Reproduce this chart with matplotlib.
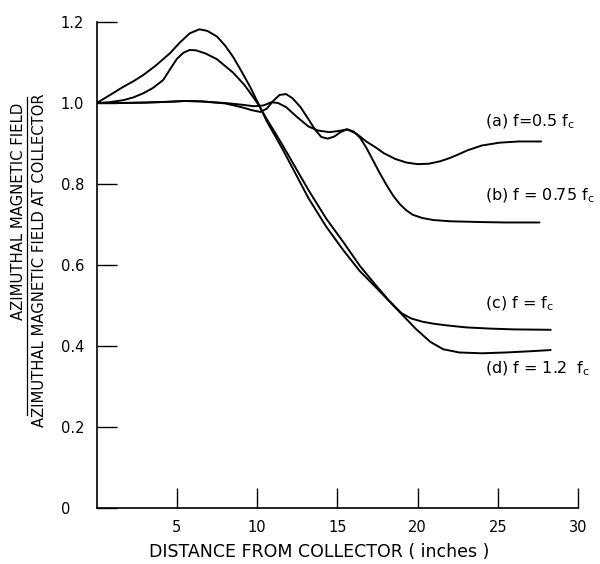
import matplotlib
matplotlib.use("Agg")
import matplotlib.pyplot as plt
from matplotlib.lines import Line2D

# ---- data ----
xa = [0, 1.5, 3, 4.5, 5.5, 6.5, 8, 9, 9.8, 10.4, 10.9, 11.3, 11.8, 12.5, 13.2, 13.8, 14.5, 15.1, 15.6,
      16.2, 16.8, 17.4, 17.9, 18.6, 19.3, 20, 20.7, 21.4, 22, 22.6, 23.1, 24, 25.1, 26.3, 27.7]
ya = [1.0, 1.0, 1.001, 1.003, 1.005, 1.004, 1.0, 0.996, 0.992, 0.994, 1.002, 1.0, 0.99, 0.965, 0.942, 0.932,
      0.928, 0.931, 0.935, 0.924, 0.905, 0.89, 0.876, 0.862, 0.853, 0.849, 0.85, 0.856, 0.864, 0.874, 0.883,
      0.895, 0.902, 0.905, 0.905]

xb = [0, 1.5, 3, 4.5, 5.5, 6.5, 8, 9, 9.7, 10.2, 10.6, 11, 11.4, 11.8, 12.2, 12.7, 13.2, 13.6, 14.0, 14.4,
      14.8, 15.2, 15.6, 16.0, 16.4, 16.8, 17.2, 17.6, 18.1, 18.5, 18.9, 19.3, 19.7, 20.3, 21, 22, 24, 25.5, 27.6]
yb = [1.0, 1.0, 1.001, 1.003, 1.005, 1.004, 0.999, 0.99, 0.982, 0.978, 0.986, 1.005, 1.02, 1.022, 1.012,
      0.99, 0.96, 0.935, 0.916, 0.912, 0.917, 0.928, 0.935, 0.93, 0.915, 0.89, 0.86, 0.83, 0.795, 0.77, 0.75,
      0.735, 0.724, 0.716, 0.711, 0.708, 0.706, 0.705, 0.705]

xc = [0, 0.8, 1.66, 2.3, 2.9, 3.5, 4.15, 4.6, 5.0, 5.4, 5.8, 6.2, 6.8, 7.5, 8.5, 9.2, 9.8, 10.1, 10.6, 11.1,
      11.6, 12.4, 13.2, 14.3, 15.4, 16.4, 17.4, 18.2, 19.0, 19.6, 20.3, 21, 21.8, 23, 24.5, 26, 28.3]
yc = [1.0, 1.002, 1.007, 1.014, 1.024, 1.037, 1.057, 1.085, 1.109, 1.124, 1.131, 1.13, 1.122, 1.108, 1.075,
      1.045, 1.012, 0.995, 0.96, 0.928, 0.895, 0.84, 0.785, 0.715, 0.655, 0.598, 0.55, 0.513, 0.481, 0.468,
      0.46, 0.455, 0.451, 0.446, 0.443, 0.441, 0.44]

xd = [0, 0.8, 1.66, 2.3, 2.9, 3.7, 4.57, 5.2, 5.8, 6.4, 6.9, 7.5, 8.0, 8.5, 9.0, 9.56, 10.07, 10.6, 11.1,
      11.6, 12.4, 13.2, 14.3, 15.4, 16.4, 17.4, 18.2, 19.0, 19.9, 20.8, 21.6, 22.6, 24, 25.5, 27, 28.3]
yd = [1.0, 1.019, 1.04, 1.054, 1.069, 1.093, 1.123, 1.15, 1.172, 1.182, 1.178, 1.164, 1.142, 1.114, 1.08,
      1.04, 0.999, 0.955, 0.92, 0.885, 0.825, 0.765, 0.695, 0.635, 0.585, 0.545, 0.512, 0.479, 0.442, 0.41,
      0.392, 0.384, 0.382, 0.384, 0.387, 0.39]

curve_labels = ["(a) f=0.5 f$_\\mathregular{c}$", "(b) f = 0.75 f$_\\mathregular{c}$",
                "(c) f = f$_\\mathregular{c}$", "(d) f = 1.2  f$_\\mathregular{c}$"]
label_x = [24.2, 24.2, 24.2, 24.2]
label_y = [0.953, 0.770, 0.503, 0.343]

xticks = [5, 10, 15, 20, 25, 30]
yticks = [0, 0.2, 0.4, 0.6, 0.8, 1.0, 1.2]
yticklabels = ["0", "0.2", "0.4", "0.6", "0.8", "1.0", "1.2"]

plt.rcParams['font.family'] = ['DejaVu Sans']

fig = plt.figure(figsize=(6.0, 5.64), dpi=100)
ax = fig.add_axes([96.7 / 600, 1 - 508 / 564, (578 - 96.7) / 600, (508 - 22) / 564])

for xs, ys in [(xa, ya), (xb, yb), (xc, yc), (xd, yd)]:
    ax.plot(xs, ys, color='black', lw=1.4, solid_joinstyle='round', solid_capstyle='round')

for t, lx, ly in zip(curve_labels, label_x, label_y):
    ax.text(lx, ly, t, fontsize=11.5, ha='left', va='center')

ax.set_xlim(0, 30)
ax.set_ylim(0, 1.2)
ax.spines['top'].set_visible(False)
ax.spines['right'].set_visible(False)
for s in ['left', 'bottom']:
    ax.spines[s].set_linewidth(1.2)

ax.set_xticks(xticks)
ax.set_xticklabels([str(v) for v in xticks])
ax.set_yticks(yticks)
ax.set_yticklabels(yticklabels)
ax.tick_params(axis='both', direction='in', length=14.5, width=1.0, labelsize=10.5)
ax.tick_params(axis='x', pad=9)
ax.tick_params(axis='y', pad=26)
for t in ax.get_yticklabels():
    t.set_ha('left')

fig.text(319 / 600, 1 - 552 / 564, "DISTANCE FROM COLLECTOR ( inches )", fontsize=12.5,
         ha='center', va='center')

# y-axis label as a fraction
fig.text(18.5 / 600, 1 - 211 / 564, "AZIMUTHAL MAGNETIC FIELD", rotation=90, fontsize=10.7,
         ha='center', va='center')
fig.text(39.5 / 600, 1 - 260 / 564, "AZIMUTHAL MAGNETIC FIELD AT COLLECTOR", rotation=90, fontsize=10.6,
         ha='center', va='center')
fig.add_artist(Line2D([27.5 / 600, 27.5 / 600], [1 - 97 / 564, 1 - 415 / 564], color='black', lw=0.9))

fig.savefig("out.png", dpi=100, facecolor='white')
